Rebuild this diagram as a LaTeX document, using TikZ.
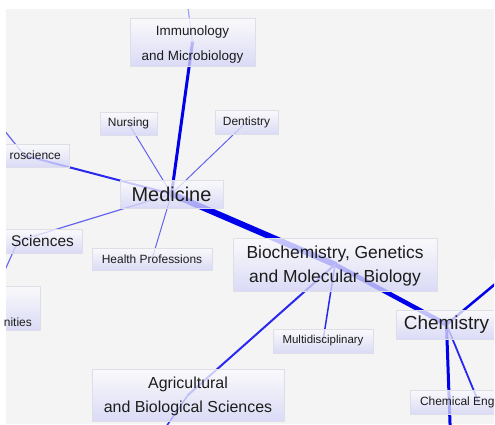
\documentclass[tikz,border=0pt]{standalone}
\usepackage{fontspec}
\setmainfont{Liberation Sans}
\definecolor{bgc}{RGB}{244,244,244}
\definecolor{boxtop}{RGB}{252,252,253}
\definecolor{boxbot}{RGB}{212,212,248}
\definecolor{boxline}{RGB}{222,222,232}
\definecolor{txt}{RGB}{28,28,28}
\definecolor{eA}{RGB}{0,0,235}
\definecolor{eB}{RGB}{40,40,240}
\definecolor{eC}{RGB}{100,100,240}
\definecolor{eD}{RGB}{160,160,250}
\pgfdeclarelayer{back}
\pgfdeclarelayer{edges}
\pgfsetlayers{back,edges,main}
\begin{document}
\begin{tikzpicture}[x=1bp,y=-1bp,
  box/.style={rectangle, draw=boxline, line width=0.8bp, top color=boxtop, bottom color=boxbot,
    fill opacity=0.78, draw opacity=1, text opacity=1, text=txt, inner sep=0pt, align=center},
  lbl/.style={text=txt, inner sep=0pt},
  fA/.style={font=\fontsize{20}{24}\selectfont},
  fB/.style={font=\fontsize{19}{24}\selectfont},
  fC/.style={font=\fontsize{17.5}{24}\selectfont},
  fD/.style={font=\fontsize{16}{24}\selectfont},
  fE/.style={font=\fontsize{15.5}{24}\selectfont},
  fF/.style={font=\fontsize{13.5}{25}\selectfont},
  fG/.style={font=\fontsize{12}{14}\selectfont},
  fH/.style={font=\fontsize{11.5}{14}\selectfont},
  link/.style={line cap=round}
]
\useasboundingbox (0,0) rectangle (495,424);
\begin{pgfonlayer}{back}
  \fill[white] (0,0) rectangle (495,424);
  \fill[bgc] (6,9) rectangle (494,424);
\end{pgfonlayer}

% off-canvas ends
\coordinate (immup) at (185,-15);
\coordinate (neuroout) at (-20,100);
\coordinate (agrdown) at (150,450);
\coordinate (chemdown) at (452,480);

\begin{scope}
\clip (6,9) rectangle (494,424);
\node[box,fF,minimum width=125bp,minimum height=48bp,text height=40.4bp,text depth=2.8bp] (imm) at (192.5,42) {Immunology\\and Microbiology};
\node[box,fG,minimum width=57bp,minimum height=23bp] (nurs) at (128.5,123.5) {Nursing};
\node[box,fG,minimum width=63bp,minimum height=24bp] (dent) at (246.5,122) {Dentistry};
\node[box,minimum width=89bp,minimum height=23bp] (neuro) at (24.5,155.5) {};
\node[box,fA,minimum width=103bp,minimum height=28bp] (med) at (171.5,194) {Medicine};
\node[box,minimum width=128bp,minimum height=24bp] (sci) at (18,241) {};
\node[box,minimum width=104bp,minimum height=44bp] (hum) at (-12,308) {};
\node[box,fG,minimum width=120bp,minimum height=22bp] (health) at (152,259) {Health Professions};
\node[box,fC,minimum width=204bp,minimum height=53bp,text height=39.3bp,text depth=3.7bp] (bio) at (335,264.5) {Biochemistry, Genetics\\and Molecular Biology};
\node[box,fH,minimum width=100bp,minimum height=24bp] (multi) at (323,341) {Multidisciplinary};
\node[box,fB,minimum width=101bp,minimum height=29bp] (chem) at (446.5,324.5) {Chemistry};
\node[box,fG,minimum width=137bp,minimum height=24bp] (cheng) at (478.5,402) {Chemical Engineering};
\node[box,fD,minimum width=192bp,minimum height=52bp,text height=38.8bp,text depth=3.4bp] (agr) at (188,395) {Agricultural\\and Biological Sciences};
\node[box,minimum width=132bp,minimum height=56bp] (rn) at (560,230) {};
\end{scope}
% visible parts of the labels cut by the left edge
\node[lbl,fG,anchor=base east] (neurot) at (61,159.8) {roscience};
\node[lbl,fE,anchor=base west] (scit) at (11,246.5) {Sciences};
\node[lbl,fG,anchor=base east] (humt) at (32,326) {nities};

\begin{pgfonlayer}{edges}
\clip (6,9) rectangle (494,424);
\draw[link,eA,line width=6bp] (med.center) -- (bio.center);
\draw[link,eA,line width=4.5bp] (bio.center) -- (chem.center);
\draw[link,eA,line width=3bp] (med.center) -- (imm.center);
\draw[link,eD,line width=1.2bp] (imm.center) -- (immup);
\draw[link,eA,line width=3bp] (chem.center) -- (chemdown);
\draw[link,eA,line width=2.5bp] (chem.center) -- (rn.center);
\draw[link,eB,line width=1.8bp] (chem.center) -- (cheng.center);
\draw[link,eB,line width=2bp] (bio.center) -- (agr.center);
\draw[link,eB,line width=1.5bp] (agr.center) -- (agrdown);
\draw[link,eB,line width=1.5bp] (bio.center) -- (multi.center);
\draw[link,eB,line width=2bp] (med.center) -- (neuro.center);
\draw[link,eC,line width=1.2bp] (neuro.center) -- (neuroout);
\draw[link,eC,line width=1.2bp] (med.center) -- (sci.center);
\draw[link,eC,line width=1.1bp] (sci.center) -- (hum.center);
\draw[link,eC,line width=1bp] (med.center) -- (nurs.center);
\draw[link,eC,line width=1bp] (med.center) -- (dent.center);
\draw[link,eC,line width=1bp] (med.center) -- (health.center);
\end{pgfonlayer}
\end{tikzpicture}
\end{document}
